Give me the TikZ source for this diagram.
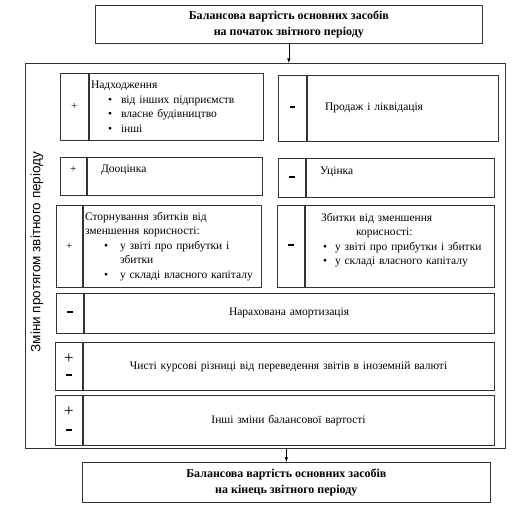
\documentclass[tikz,border=0pt]{standalone}
\usepackage{fontspec}
\setmainfont{Liberation Serif}
\newfontfamily\sidefont{Liberation Sans}
\usetikzlibrary{positioning}

\begin{document}
\begin{tikzpicture}[
    x=1pt,
    y=-1pt,
    box/.style={
      draw=black!80,
      line width=.7pt,
      inner sep=2pt,
    },
    headbox/.style={
      box,
      anchor=north west,
      align=center,
      font=\bfseries\fontsize{12}{16}\selectfont,
    },
    sign/.style={
      box,
      align=center,
      inner sep=0,
      font=\fontsize{11}{14}\selectfont,
    },
    cell/.style={
      box,
      font=\fontsize{11.5}{14.5}\selectfont,
    },
    arrow/.style={
      line width=.6pt,
      -latex,
    },
    sidelabel/.style={
      rotate=90,
      inner sep=0,
      font=\sidefont\fontsize{13.5}{15}\selectfont,
    },
  ]
    \useasboundingbox (0,0) rectangle (520,509);
    \newcommand\itm[3]{\hspace*{#1pt}\makebox[#2pt][l]{\textbullet}#3}
    \newcommand\minus{\rule[2.5pt]{5.5pt}{2pt}}
    \newcommand\plus{{\fontsize{17}{17}\selectfont +}}
    \newcommand\pmrow[8]{%
      \node[sign,minimum width=#3pt,minimum height=#5pt,anchor=north west]
        (#1sign) at (#2) {#6};
      \pgfmathsetmacro\tw{#4-4}%
      \node[cell,#8,minimum width=#4pt,minimum height=#5pt,text width=\tw pt,
        right=0pt of #1sign.north east,anchor=north west] (#1) {#7};
    }

    \node[headbox,minimum width=387pt,minimum height=38pt] (start) at (95,5)
      {Балансова вартість основних засобів\\на початок звітного періоду};
    \node[box,anchor=north west,minimum width=480pt,minimum height=385pt]
      (changes) at (25,63) {};
    \node[sidelabel] (period) at (37,252) {Зміни протягом звітного періоду};

    \pmrow{inflow}{60,73}{28}{174}{67}{+}
      {Надходження\\\itm{17}{13}{від інших підприємств}\\
       \itm{17}{13}{власне будівництво}\\\itm{17}{13}{інші}}{align=left}
    \pmrow{sale}{278,75}{28}{191}{66}{\minus}
      {\hspace*{16pt}Продаж і ліквідація}{align=left}

    \pmrow{upvalue}{60,157}{26}{175}{38}{+\\\mbox{}}
      {\hspace*{12pt}Дооцінка\\\mbox{}}{align=left}
    \pmrow{downvalue}{278,158}{27}{188}{39}{\minus}
      {\hspace*{12pt}Уцінка\\\mbox{}}{align=left}

    \pmrow{reversal}{56,205}{26}{178}{82}{+}
      {Сторнування збитків від\\зменшення корисності:\\\itm{19}{16}{у звіті про прибутки і}\\
       \hspace*{35pt}збитки\\\itm{19}{16}{у складі власного капіталу}}{align=left}
    \pmrow{loss}{277,205}{27}{189}{82}{\minus}
      {\hspace*{14pt}Збитки від зменшення\\\hspace*{49pt}корисності:\\
       \itm{16}{12}{у звіті про прибутки і збитки}\\
       \itm{16}{12}{у складі власного капіталу}\\\mbox{}}{align=left}

    \pmrow{amort}{56,293}{27}{410}{40}{\minus}
      {Нарахована амортизація}{align=center}
    \pmrow{exchange}{55,342}{27}{411}{48}{\plus\\[1pt]\minus}
      {Чисті курсові різниці від переведення звітів в іноземній валюті}{align=center}
    \pmrow{other}{55,395}{27}{411}{50}{\plus\\[3pt]\minus}
      {Інші зміни балансової вартості}{align=center}

    \node[headbox,minimum width=408pt,minimum height=40pt] (finish) at (82,462)
      {Балансова вартість основних засобів\\на кінець звітного періоду};

    \draw[arrow] (start.south) -- (start.south |- changes.north);
    \draw[arrow] (changes.south -| finish.north) -- (finish.north);
\end{tikzpicture}
\end{document}
